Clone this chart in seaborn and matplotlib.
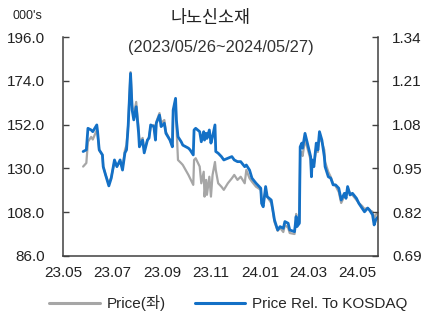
import pandas as pd
import matplotlib
matplotlib.use("Agg")
import matplotlib.pyplot as plt
import matplotlib.dates as mdates
from matplotlib.lines import Line2D
from matplotlib.ticker import FormatStrFormatter
import seaborn as sns

# data
dates = [
    "2023-05-26", "2023-05-30", "2023-06-01", "2023-06-05", "2023-06-07", "2023-06-12", "2023-06-13", "2023-06-15", "2023-06-19", "2023-06-20",
    "2023-06-23", "2023-06-27", "2023-06-30", "2023-07-04", "2023-07-07", "2023-07-11", "2023-07-14", "2023-07-17", "2023-07-19", "2023-07-21",
    "2023-07-24", "2023-07-26", "2023-07-28", "2023-07-31", "2023-08-03", "2023-08-04", "2023-08-08", "2023-08-10", "2023-08-14", "2023-08-16",
    "2023-08-18", "2023-08-22", "2023-08-24", "2023-08-25", "2023-08-29", "2023-08-31", "2023-09-04", "2023-09-06", "2023-09-11", "2023-09-14",
    "2023-09-15", "2023-09-18", "2023-09-19", "2023-09-21", "2023-09-25", "2023-09-27", "2023-10-04", "2023-10-06", "2023-10-10", "2023-10-11",
    "2023-10-13", "2023-10-18", "2023-10-20", "2023-10-23", "2023-10-24", "2023-10-26", "2023-10-27", "2023-10-30", "2023-11-01", "2023-11-03",
    "2023-11-06", "2023-11-07", "2023-11-10", "2023-11-14", "2023-11-17", "2023-11-22", "2023-11-27", "2023-11-30", "2023-12-04", "2023-12-08",
    "2023-12-13", "2023-12-15", "2023-12-19", "2023-12-22", "2023-12-27", "2024-01-02", "2024-01-03", "2024-01-05", "2024-01-08", "2024-01-10",
    "2024-01-15", "2024-01-17", "2024-01-19", "2024-01-23", "2024-01-26", "2024-01-30", "2024-02-01", "2024-02-05", "2024-02-07", "2024-02-13",
    "2024-02-15", "2024-02-16", "2024-02-19", "2024-02-20", "2024-02-22", "2024-02-23", "2024-02-26", "2024-02-29", "2024-03-04", "2024-03-05",
    "2024-03-06", "2024-03-08", "2024-03-11", "2024-03-13", "2024-03-15", "2024-03-18", "2024-03-21", "2024-03-22", "2024-03-26", "2024-03-29",
    "2024-04-01", "2024-04-04", "2024-04-08", "2024-04-11", "2024-04-15", "2024-04-17", "2024-04-19", "2024-04-22", "2024-04-25", "2024-04-30",
    "2024-05-03", "2024-05-07", "2024-05-10", "2024-05-14", "2024-05-16", "2024-05-20", "2024-05-22", "2024-05-24", "2024-05-27",
]

price = [
    130.9, 132.7, 143.4, 145.8, 144.5, 149.3, 146.8, 139.2, 136.7, 130.9,
    126.7, 122.2, 125.7, 133.2, 131.2, 133.2, 130.2, 139.2, 141.8, 151.8,
    178.4, 161.8, 156.8, 163.4, 150.3, 143.3, 145.3, 139.2, 144.3, 145.8,
    150.8, 151.8, 145.3, 153.3, 157.8, 152.8, 154.3, 148.3, 144.3, 141.2,
    158.3, 164.4, 151.8, 134.2, 132.6, 131.7, 126.7, 125.0, 121.7, 134.2,
    135.1, 130.9, 122.5, 128.3, 115.8, 124.2, 116.7, 125.8, 115.8, 126.7,
    133.2, 129.2, 122.5, 120.8, 119.2, 122.5, 125.0, 126.7, 124.2, 125.8,
    122.5, 129.2, 125.0, 123.3, 120.8, 119.2, 114.1, 112.1, 119.2, 115.6,
    112.6, 108.6, 103.1, 98.6, 100.1, 98.0, 101.6, 100.1, 97.5, 97.0,
    107.1, 103.1, 103.1, 136.2, 138.2, 136.2, 144.3, 140.2, 134.2, 126.7,
    132.7, 131.7, 140.2, 138.2, 145.3, 143.3, 139.2, 133.2, 128.2, 125.7,
    122.2, 121.2, 118.1, 112.6, 116.1, 115.1, 120.2, 117.6, 116.6, 114.1,
    112.6, 111.1, 109.6, 110.1, 109.1, 108.2, 104.7, 106.7, 107.7,
]

rel_kosdaq = [
    1.000, 1.005, 1.069, 1.064, 1.059, 1.079, 1.059, 1.005, 0.990, 0.955,
    0.930, 0.898, 0.921, 0.975, 0.955, 0.975, 0.945, 0.996, 1.005, 1.074,
    1.232, 1.123, 1.094, 1.133, 1.055, 1.014, 1.034, 0.996, 1.034, 1.040,
    1.079, 1.074, 1.034, 1.084, 1.108, 1.074, 1.084, 1.054, 1.034, 1.014,
    1.123, 1.158, 1.094, 1.044, 1.029, 1.019, 1.010, 1.005, 0.990, 1.064,
    1.069, 1.059, 1.029, 1.059, 1.034, 1.054, 1.039, 1.064, 1.025, 1.044,
    1.079, 1.000, 0.995, 0.985, 0.975, 0.980, 0.985, 0.975, 0.970, 0.970,
    0.955, 0.960, 0.945, 0.921, 0.906, 0.891, 0.846, 0.836, 0.896, 0.866,
    0.856, 0.827, 0.797, 0.767, 0.777, 0.772, 0.792, 0.787, 0.767, 0.762,
    0.807, 0.777, 0.787, 1.014, 1.025, 1.010, 1.054, 1.025, 0.985, 0.925,
    0.975, 0.955, 1.025, 1.005, 1.059, 1.034, 0.985, 0.955, 0.925, 0.921,
    0.901, 0.901, 0.891, 0.856, 0.876, 0.861, 0.896, 0.871, 0.876, 0.861,
    0.846, 0.832, 0.821, 0.832, 0.827, 0.812, 0.782, 0.797, 0.807,
]

left_ticks = [86.0, 108.0, 130.0, 152.0, 174.0, 196.0]
right_ticks = [0.69, 0.82, 0.95, 1.08, 1.21, 1.34]

title = "나노신소재"
subtitle = "(2023/05/26~2024/05/27)"
unit_label = "000's"
label_price = "Price(좌)"
label_rel = "Price Rel. To KOSDAQ"

df = pd.DataFrame({"date": pd.to_datetime(dates), "price": price, "rel": rel_kosdaq})

sns.set_style("white")
plt.rcParams["font.family"] = ["Liberation Sans", "Noto Sans CJK KR", "DejaVu Sans"]

gray = "#a6a6a6"
blue = "#1370c6"
spine_c = "#404040"

fig = plt.figure(figsize=(4.23, 3.14), dpi=100)
ax = fig.add_axes([0.149, 0.185, 0.745, 0.697])
ax2 = ax.twinx()

sns.lineplot(data=df, x="date", y="price", ax=ax, color=gray, linewidth=1.6)
sns.lineplot(data=df, x="date", y="rel", ax=ax2, color=blue, linewidth=2.0)
ax.set_zorder(ax2.get_zorder() - 1)
ax2.patch.set_visible(False)

ax.set_xlim(pd.Timestamp("2023-05-01"), pd.Timestamp("2024-05-27"))
ax.set_ylim(left_ticks[0], left_ticks[-1])
ax2.set_ylim(right_ticks[0], right_ticks[-1])
ax.set_yticks(left_ticks)
ax2.set_yticks(right_ticks)
ax.yaxis.set_major_formatter(FormatStrFormatter("%.1f"))
ax2.yaxis.set_major_formatter(FormatStrFormatter("%.2f"))

ax.xaxis.set_major_locator(mdates.MonthLocator(bymonth=[1, 3, 5, 7, 9, 11]))
ax.xaxis.set_minor_locator(mdates.MonthLocator())
ax.xaxis.set_major_formatter(mdates.DateFormatter("%y.%m"))

for a in (ax, ax2):
    a.set_xlabel("")
    a.set_ylabel("")
    a.grid(False)
    for s in a.spines.values():
        s.set_color(spine_c)
        s.set_linewidth(1.1)
    a.spines["top"].set_visible(False)

ax.spines["right"].set_visible(False)
ax2.spines["left"].set_visible(False)
ax2.spines["bottom"].set_visible(False)

ax.tick_params(axis="y", direction="in", length=4, width=1, color=spine_c, pad=13, labelsize=11, labelcolor="#222222")
ax2.tick_params(axis="y", direction="in", length=4, width=1, color=spine_c, pad=10, labelsize=11, labelcolor="#222222")
ax.tick_params(axis="x", which="both", direction="in", length=4, width=1, color=spine_c, pad=7, labelsize=11, labelcolor="#222222")

fig.text(210 / 423, 1 - 18 / 314, title, ha="center", va="center", fontsize=12.5, color="#222222")
ax.text(0.5, 0.95, subtitle, transform=ax.transAxes, ha="center", va="center", fontsize=11.8, color="#333333")
fig.text(12 / 423, 1 - 16 / 314, unit_label, ha="left", va="center", fontsize=9, color="#222222")

handles = [Line2D([], [], color=gray, linewidth=2.2), Line2D([], [], color=blue, linewidth=2.2)]
fig.legend(handles, [label_price, label_rel], loc="center", bbox_to_anchor=(0.54, 1 - 303 / 314),
           ncol=2, frameon=False, fontsize=11, handlelength=3.3, columnspacing=1.9, handletextpad=0.45)

fig.savefig("out.png", dpi=100)
